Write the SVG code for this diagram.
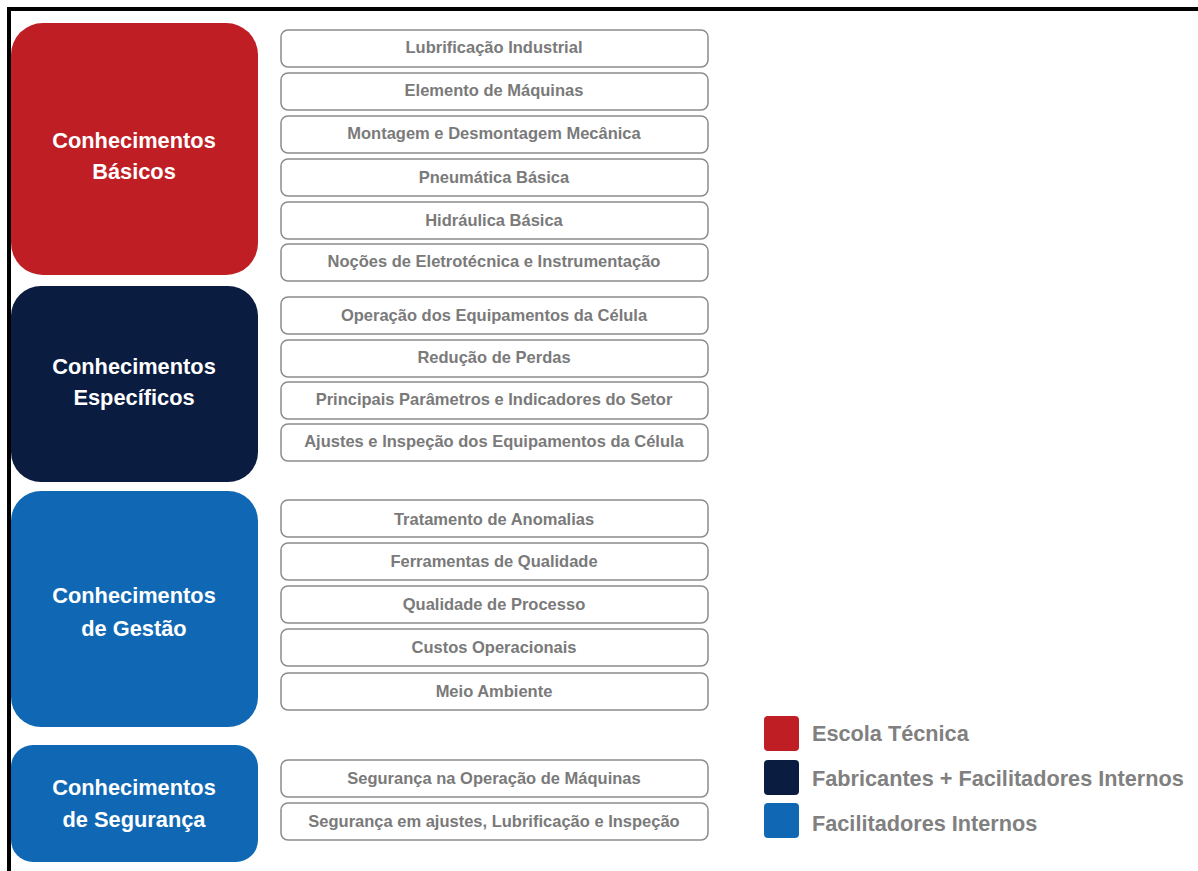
<svg xmlns="http://www.w3.org/2000/svg" width="1198" height="871" viewBox="0 0 1198 871">
<style>
.big{stroke:none}
.cat{font-family:"Liberation Sans",Arial,sans-serif;font-weight:bold;font-size:21.8px;fill:#ffffff;text-anchor:middle}
.item rect{fill:#ffffff;stroke:#8c8c8c;stroke-width:1.5}
.item text{font-family:"Liberation Sans",Arial,sans-serif;font-weight:bold;font-size:16.5px;fill:#7a7a7a;text-anchor:middle;dominant-baseline:central}
.leg{font-family:"Liberation Sans",Arial,sans-serif;font-weight:bold;font-size:21.7px;fill:#808080;dominant-baseline:central}
</style>
<rect width="1198" height="871" fill="#ffffff"/>
<path d="M9 871 V9 H1198" fill="none" stroke="#000000" stroke-width="4"/>
<g id="cat-basicos">
<rect class="big" x="11" y="23" width="247" height="252" rx="32" fill="#BE1E24"/>
<text class="cat" x="134" y="148">Conhecimentos</text>
<text class="cat" x="134" y="179">Básicos</text>
</g>
<g id="cat-especificos">
<rect class="big" x="11" y="286" width="247" height="196" rx="30" fill="#0A1C40"/>
<text class="cat" x="134" y="374">Conhecimentos</text>
<text class="cat" x="134" y="405">Específicos</text>
</g>
<g id="cat-gestao">
<rect class="big" x="11" y="491" width="247" height="236" rx="30" fill="#1068B4"/>
<text class="cat" x="134" y="603">Conhecimentos</text>
<text class="cat" x="134" y="636">de Gestão</text>
</g>
<g id="cat-seguranca">
<rect class="big" x="11" y="745" width="247" height="117" rx="22" fill="#1068B4"/>
<text class="cat" x="134" y="795">Conhecimentos</text>
<text class="cat" x="134" y="827">de Segurança</text>
</g>
<g id="items-basicos">
<g class="item" id="i1"><rect x="281" y="30" width="427" height="37" rx="7"/><text x="494" y="47">Lubrificação Industrial</text></g>
<g class="item" id="i2"><rect x="281" y="73" width="427" height="37" rx="7"/><text x="494" y="90">Elemento de Máquinas</text></g>
<g class="item" id="i3"><rect x="281" y="116" width="427" height="37" rx="7"/><text x="494" y="133">Montagem e Desmontagem Mecânica</text></g>
<g class="item" id="i4"><rect x="281" y="159" width="427" height="37" rx="7"/><text x="494" y="176.5">Pneumática Básica</text></g>
<g class="item" id="i5"><rect x="281" y="202" width="427" height="37" rx="7"/><text x="494" y="219.5">Hidráulica Básica</text></g>
<g class="item" id="i6"><rect x="281" y="244" width="427" height="37" rx="7"/><text x="494" y="261">Noções de Eletrotécnica e Instrumentação</text></g>
</g>
<g id="items-especificos">
<g class="item" id="i7"><rect x="281" y="297" width="427" height="37" rx="7"/><text x="494" y="314.5">Operação dos Equipamentos da Célula</text></g>
<g class="item" id="i8"><rect x="281" y="340" width="427" height="37" rx="7"/><text x="494" y="357">Redução de Perdas</text></g>
<g class="item" id="i9"><rect x="281" y="382" width="427" height="37" rx="7"/><text x="494" y="399">Principais Parâmetros e Indicadores do Setor</text></g>
<g class="item" id="i10"><rect x="281" y="424" width="427" height="37" rx="7"/><text x="494" y="441">Ajustes e Inspeção dos Equipamentos da Célula</text></g>
</g>
<g id="items-gestao">
<g class="item" id="i11"><rect x="281" y="500" width="427" height="37" rx="7"/><text x="494" y="518.5">Tratamento de Anomalias</text></g>
<g class="item" id="i12"><rect x="281" y="543" width="427" height="37" rx="7"/><text x="494" y="561">Ferramentas de Qualidade</text></g>
<g class="item" id="i13"><rect x="281" y="586" width="427" height="37" rx="7"/><text x="494" y="604">Qualidade de Processo</text></g>
<g class="item" id="i14"><rect x="281" y="629" width="427" height="37" rx="7"/><text x="494" y="647">Custos Operacionais</text></g>
<g class="item" id="i15"><rect x="281" y="673" width="427" height="37" rx="7"/><text x="494" y="691">Meio Ambiente</text></g>
</g>
<g id="items-seguranca">
<g class="item" id="i16"><rect x="281" y="760" width="427" height="37" rx="7"/><text x="494" y="778">Segurança na Operação de Máquinas</text></g>
<g class="item" id="i17"><rect x="281" y="803" width="427" height="37" rx="7"/><text x="494" y="821">Segurança em ajustes, Lubrificação e Inspeção</text></g>
</g>
<g id="legend">
<rect x="764" y="716" width="35" height="35" rx="4" fill="#BE1E24"/>
<text class="leg" x="812" y="733">Escola Técnica</text>
<rect x="764" y="760" width="35" height="35" rx="4" fill="#0A1C40"/>
<text class="leg" x="812" y="778">Fabricantes + Facilitadores Internos</text>
<rect x="764" y="803" width="35" height="35" rx="4" fill="#1068B4"/>
<text class="leg" x="812" y="823">Facilitadores Internos</text>
</g>
</svg>
